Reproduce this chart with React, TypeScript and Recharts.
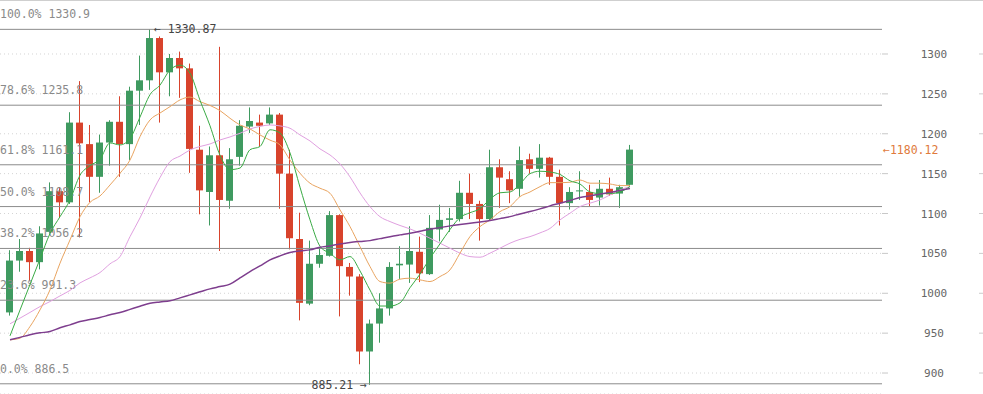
import React from 'react';
import {
  ComposedChart,
  Bar,
  Line,
  XAxis,
  YAxis,
  CartesianGrid,
  ReferenceLine,
  ReferenceDot,
} from 'recharts';

// daily candles
const opens = [
  976, 1041, 1053, 1039, 1077, 1128, 1114, 1214, 1187, 1146,
  1189, 1215, 1187, 1254, 1267, 1320, 1277, 1295, 1282, 1180,
  1127, 1173, 1116, 1171, 1209, 1214, 1213, 1224, 1150, 1068,
  987, 1037, 1047, 1098, 1033, 1021, 927, 962, 981, 1035,
  1036, 1052, 1024, 1080, 1092, 1093, 1126, 1112, 1093, 1158,
  1143, 1131, 1168, 1156, 1170, 1146, 1113, 1128, 1127, 1120,
  1131, 1125, 1136,
];
const highs = [
  1054, 1068, 1057, 1084, 1139, 1133, 1227, 1266, 1211, 1199,
  1217, 1247, 1259, 1298, 1330.87, 1322, 1300, 1303, 1288, 1210,
  1184, 1309, 1182, 1217, 1233, 1224, 1233, 1226, 1180, 1101,
  1066, 1057, 1103, 1099, 1038, 1024, 967, 1000, 1039, 1059,
  1084, 1071, 1098, 1111, 1107, 1141, 1150, 1116, 1180, 1168,
  1153, 1184, 1175, 1187, 1171, 1155, 1133, 1153, 1136, 1142,
  1145, 1136, 1186,
];
const lows = [
  972, 1027, 1015, 1030, 1075, 1095, 1112, 1070, 1114, 1126,
  1160, 1146, 1167, 1211, 1255, 1214, 1247, 1245, 1151, 1099,
  1085, 1053, 1106, 1160, 1201, 1184, 1211, 1106, 1055, 966,
  985, 1032, 1046, 971, 997, 911, 885.21, 938, 972, 1018,
  1013, 1014, 1023, 1065, 1077, 1090, 1093, 1066, 1091, 1107,
  1113, 1121, 1150, 1145, 1136, 1085, 1105, 1117, 1109, 1110,
  1122, 1107, 1134,
];
const closes = [
  1041, 1053, 1039, 1075, 1128, 1114, 1214, 1188, 1146, 1189,
  1215, 1187, 1254, 1267, 1320, 1277, 1295, 1282, 1181, 1129,
  1173, 1117, 1168, 1210, 1216, 1210, 1224, 1150, 1069, 988,
  1037, 1048, 1098, 1034, 1021, 927, 962, 981, 1033, 1037,
  1053, 1025, 1082, 1092, 1094, 1126, 1112, 1093, 1158, 1145,
  1129, 1167, 1156, 1170, 1146, 1113, 1127, 1129, 1117, 1131,
  1124, 1133, 1180.12,
];

// moving averages as drawn
const ma5 = [
  946.6, 979, 1011, 1043, 1075, 1096, 1117, 1148, 1160, 1168,
  1188.5, 1186, 1194, 1221, 1249, 1261, 1280, 1286, 1276, 1242,
  1210, 1173, 1155, 1157, 1180, 1184, 1205, 1201, 1176, 1133,
  1092, 1059, 1050, 1042, 1046, 1028, 1004, 984, 984, 988,
  1007, 1024, 1044, 1062, 1080, 1095, 1101, 1106, 1118, 1126,
  1127, 1137, 1150, 1153, 1152, 1149, 1141, 1137, 1127, 1125,
  1125, 1127, 1134,
];
const ma10 = [
  941.6, 943.7, 958.3, 979.2, 1004.3, 1037.7, 1066.9, 1096, 1114, 1122,
  1135.8, 1150.5, 1167, 1196.4, 1217.3, 1226, 1234, 1242.4, 1246, 1240.2,
  1235.5, 1229, 1219.4, 1211, 1206, 1198.5, 1192, 1186, 1167, 1150.5,
  1138, 1131.7, 1125.4, 1104.5, 1083.6, 1058.5, 1033.5, 1014.7, 1012.7, 1017.7,
  1018.9, 1016.8, 1014.7, 1021, 1029.3, 1050.3, 1071.1, 1083.6, 1092, 1102.4,
  1108.7, 1121.2, 1127, 1133.7, 1138.7, 1138.7, 1139.2, 1142, 1138, 1138,
  1137, 1135, 1135,
];
const ma20 = [
  961.7, 968.8, 976, 983.3, 989.6, 996.7, 1003.6, 1013, 1019.3, 1026,
  1036.9, 1046, 1071, 1094.5, 1120.8, 1145, 1165, 1172, 1179.7, 1184,
  1187.2, 1192.2, 1196, 1200.6, 1206, 1209.2, 1211, 1209.8, 1206.9, 1198.5,
  1191, 1181, 1173.4, 1162.2, 1145.9, 1125.8, 1108.6, 1096, 1089.9, 1085,
  1080.7, 1075.3, 1069, 1062.8, 1056.5, 1050.3, 1046, 1045.2, 1050.3, 1056.5,
  1062.8, 1067.6, 1071, 1075.7, 1081.3, 1092, 1100.4, 1108.7, 1113, 1117,
  1123.3, 1129.6, 1133.7,
];
const ma60 = [
  941.6, 944.7, 947.9, 950.4, 952, 956.7, 960.4, 964.5, 967, 969.6,
  973, 975.8, 979.8, 983.8, 987.6, 989.2, 990.5, 994.2, 998, 1001.8,
  1005.5, 1008.4, 1011.4, 1019.3, 1027.2, 1034.3, 1041.8, 1046.9, 1051, 1053.1,
  1054.4, 1057.8, 1059.4, 1061.9, 1063.8, 1065, 1066, 1068.5, 1071, 1073.2,
  1075.3, 1077.8, 1080.3, 1082.3, 1084.5, 1086.1, 1087.8, 1089.5, 1091.1, 1093.6,
  1096.1, 1099.5, 1102.4, 1105.8, 1109.6, 1112.9, 1116.4, 1120, 1122.1, 1124.6,
  1126.5, 1129, 1131.4,
];

const fibPercents = ['100.0%', '78.6%', '61.8%', '50.0%', '38.2%', '23.6%', '0.0%'];
const fibLevels = [1330.9, 1235.8, 1161.1, 1108.7, 1056.2, 991.3, 886.5];
const priceTicks = [900, 950, 1000, 1050, 1100, 1150, 1200, 1250, 1300];

const GREEN = '#3f9a60';
const RED = '#d8432c';
const MONO = '"DejaVu Sans Mono", monospace';

const data = opens.map((o, i) => ({
  i,
  open: o,
  high: highs[i],
  low: lows[i],
  close: closes[i],
  range: [lows[i], highs[i]],
  ma5: ma5[i],
  ma10: ma10[i],
  ma20: ma20[i],
  ma60: ma60[i],
}));

const Candle = (props: any) => {
  const { x, y, width, height, payload } = props;
  const { open, close, high, low } = payload;
  const color = close >= open ? GREEN : RED;
  const top = Math.min(y, y + height);
  const h = Math.abs(height);
  const k = h / (high - low);
  const bodyTop = top + (high - Math.max(open, close)) * k;
  const bodyH = Math.max(1, Math.abs(close - open) * k);
  const cx = x + width / 2;
  return (
    <g>
      <line x1={cx} x2={cx} y1={top} y2={top + h} stroke={color} strokeWidth={1} />
      <rect x={x} y={bodyTop} width={width} height={bodyH} fill={color} />
    </g>
  );
};

const PriceTick = (props: any) => {
  const { y, payload } = props;
  return (
    <g>
      <text x={934} y={y} dy={4} textAnchor="middle" fontSize={11} fontFamily={MONO} fill="#666">
        {payload.value}
      </text>
      <line x1={979} x2={983} y1={y} y2={y} stroke="#ccc" />
    </g>
  );
};

const fibLabel = (text: string) => (props: any) => {
  const { viewBox } = props;
  return (
    <text x={viewBox.x} y={viewBox.y - 11} fontSize={11.5} fontFamily={MONO} fill="#8a8a8a">
      {text}
    </text>
  );
};

const App: React.FC = () => {
  const last = data[data.length - 1];
  return (
    <div style={{ position: 'absolute', left: 0, top: 0, width: 983, height: 394, background: '#fff' }}>
      <ComposedChart width={983} height={394} data={data} margin={{ top: 0, right: 0, left: 0, bottom: 0 }}>
        <CartesianGrid vertical={false} stroke="#d4d4d4" strokeDasharray="1 3" />
        <XAxis type="number" dataKey="i" domain={[-1, 87.2]} hide allowDataOverflow />
        <YAxis
          orientation="right"
          type="number"
          domain={[873.7, 1367.7]}
          ticks={priceTicks}
          width={101}
          axisLine={false}
          tickSize={6}
          tickLine={{ stroke: '#c8c8c8' }}
          tick={<PriceTick />}
          allowDataOverflow
        />
        {fibLevels.map((lv, k) => (
          <ReferenceLine
            key={lv}
            y={lv}
            stroke="#8c8c8c"
            strokeWidth={1}
            label={fibLabel(`${fibPercents[k]} ${lv.toFixed(1)}`)}
          />
        ))}
        <Bar dataKey="range" barSize={7} shape={<Candle />} isAnimationActive={false} />
        <Line type="monotone" dataKey="ma20" stroke="#e0a0e0" strokeWidth={1} dot={false} isAnimationActive={false} />
        <Line type="monotone" dataKey="ma10" stroke="#e9a460" strokeWidth={1} dot={false} isAnimationActive={false} />
        <Line type="monotone" dataKey="ma5" stroke="#3aab45" strokeWidth={1} dot={false} isAnimationActive={false} />
        <Line type="monotone" dataKey="ma60" stroke="#7e3e8e" strokeWidth={1.5} dot={false} isAnimationActive={false} />
        <ReferenceDot
          x={14}
          y={1330.87}
          r={0}
          fill="none"
          stroke="none"
          label={(p: any) => (
            <text x={p.viewBox.x + 4} y={p.viewBox.y + 4} fontSize={11.5} fontFamily={MONO} fill="#444">
              ← 1330.87
            </text>
          )}
        />
        <ReferenceDot
          x={36}
          y={885.21}
          r={0}
          fill="none"
          stroke="none"
          label={(p: any) => (
            <text x={p.viewBox.x - 3} y={p.viewBox.y + 4} textAnchor="end" fontSize={11.5} fontFamily={MONO} fill="#444">
              885.21 →
            </text>
          )}
        />
        <ReferenceLine
          y={last.close}
          stroke="none"
          label={(p: any) => (
            <text x={p.viewBox.x + p.viewBox.width + 1} y={p.viewBox.y + 4} fontSize={11.5} fontFamily={MONO} fill="#e07a3c">
              ←1180.12
            </text>
          )}
        />
      </ComposedChart>
      <div style={{ position: 'absolute', left: 0, top: 0, width: 983, height: 1, background: '#cfcfcf' }} />
    </div>
  );
};

export default App;
